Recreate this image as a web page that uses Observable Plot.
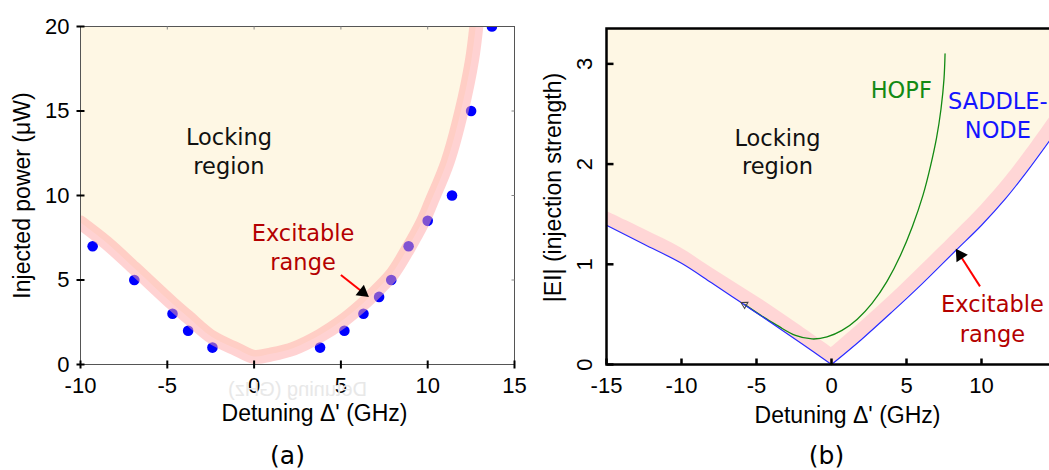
<!DOCTYPE html>
<html><head><meta charset="utf-8">
<script src="https://cdn.jsdelivr.net/npm/d3@7"></script>
<script src="https://cdn.jsdelivr.net/npm/@observablehq/plot@0.6"></script>
<style>
html,body{margin:0;padding:0;background:#fff;overflow:hidden}
#wrap{position:relative;width:1049px;height:470px;overflow:hidden;background:#fff}
#pa,#pb{position:absolute;top:0;width:540px;height:470px}
#pa{left:0}
#pb{left:540px}
#pa svg,#pb svg{max-width:none !important}
#ghost{position:absolute;left:230px;top:378px;width:137px;text-align:center;font:20px "Liberation Sans",Arial,sans-serif;color:#e8e8e8;transform:scaleX(-1);white-space:nowrap}
</style></head>
<body>
<div id="wrap"><div id="pa"></div><div id="pb"></div><div id="ghost">Detuning (GHz)</div></div>
<script>
// ---------- Panel (a) data ----------
const aXDomain = [-10, 15];
const aYDomain = [0, 20];
const aXTicks = [-10, -5, 0, 5, 10, 15];
const aYTicks = [0, 5, 10, 15, 20];
const dotDetuning = [-9.3, -6.9, -4.7, -3.8, -2.4, 3.8, 5.2, 6.3, 7.2, 7.9, 8.9, 10.0, 11.4, 12.5, 13.7];
const dotPower    = [7, 5, 3, 2, 1, 1, 2, 3, 4, 5, 7, 8.5, 10, 15, 20];
const edgeDetuningA = [-10, -8.5, -6.9, -4.7, -3.8, -2.4, -1, 0, 1, 2.3, 3.8, 5, 6.3, 7.2, 8, 8.9, 9.7, 10.2, 11.15, 11.95, 12.55, 12.8];
const edgePowerA    = [8.4, 7.2, 5.7, 3.6, 2.8, 1.6, 0.9, 0.45, 0.6, 0.95, 1.7, 2.5, 3.6, 4.5, 5.4, 6.9, 8.4, 9.6, 12, 15, 18, 20];
const arrowA = {tail: [5.0, 5.3], head: [6.26, 4.27], angle: 128};

// ---------- Panel (b) data ----------
const bXDomain = [-15, 15];
const bYDomain = [0, 3.353];
const bXTicks = [-15, -10, -5, 0, 5, 10];
const bYTicks = [0, 1, 2, 3];
const snDetuning = [-15, -12.5, -10, -8, -6, -4, -2, 0, 2, 4, 6, 8.3, 10, 11.6, 13, 15];
const snStrength = [1.39, 1.2, 1.01, 0.815, 0.615, 0.415, 0.21, 0, 0.25, 0.52, 0.8, 1.14, 1.39, 1.655, 1.92, 2.33];
const bandWidthB = [0.14, 0.15, 0.15, 0.15, 0.16, 0.17, 0.17, 0.17, 0.18, 0.18, 0.19, 0.19, 0.2, 0.21, 0.22, 0.23];
const snSide = ["L","L","L","L","L","L","L","L","R","R","R","R","R","R","R","R"];
const hopfDetuning = [-5.8, -4.5, -3.4, -2.4, -1.3, -0.3, 0.7, 1.7, 2.7, 3.7, 4.6, 5.4, 6.1, 6.6, 7.0, 7.3, 7.5, 7.57];
const hopfStrength = [0.60, 0.47, 0.37, 0.29, 0.255, 0.275, 0.34, 0.45, 0.61, 0.83, 1.09, 1.38, 1.69, 1.98, 2.26, 2.55, 2.85, 3.1];
const arrowB = {tail: [9.9, 0.78], head: [8.57, 1.09], angle: -33};
const markerB = [[-5.8, 0.6]];

// ---------- styles ----------
const sans = '"Liberation Sans", Arial, sans-serif';
const dvs = '"DejaVu Sans", Verdana, sans-serif';
const cream = "#fef7e4";
const red = "#b40000";

function seg(x1, y1, x2, y2) {
  return {draw(ctx, size) { const r = Math.sqrt(size / Math.PI); ctx.moveTo(x1 * r, y1 * r); ctx.lineTo(x2 * r, y2 * r); }};
}
const hCross = seg(-1, 0, 1, 0), vCross = seg(0, -1, 0, 1);
const downT = seg(0, 0, 0, 1), upT = seg(0, 0, 0, -1), leftT = seg(0, 0, -1, 0), rightT = seg(0, 0, 1, 0);
const fmt = d => String(d);

const dotsA = dotDetuning.map((x, i) => ({x, y: dotPower[i]}));
const edgeA = edgeDetuningA.map((x, i) => ({x, y: edgePowerA[i]}));

const pa = Plot.plot({
  width: 540, height: 470,
  marginLeft: 80, marginRight: 26, marginTop: 26, marginBottom: 106,
  style: {background: "transparent", fontFamily: sans, maxWidth: "none"},
  x: {domain: aXDomain}, y: {domain: aYDomain},
  marks: [
    Plot.areaY(edgeA, {x: "x", y1: "y", y2: aYDomain[1], fill: cream, curve: "catmull-rom", clip: true}),
    Plot.dot(dotsA, {x: "x", y: "y", r: 5.3, fill: "#0000ff", clip: true}),
    Plot.line(edgeA, {x: "x", y: "y", stroke: "#ffa6a6", strokeOpacity: 0.5, strokeWidth: 14, curve: "catmull-rom", clip: true}),
    Plot.frame({stroke: "#555", strokeWidth: 1}),
    Plot.dot(aYTicks, {y: d => d, frameAnchor: "left", symbol: hCross, r: 4, stroke: "#000", strokeWidth: 2}),
    Plot.dot(aXTicks, {x: d => d, frameAnchor: "bottom", symbol: vCross, r: 4, stroke: "#000", strokeWidth: 2}),
    Plot.dot(aXTicks.slice(1, -1), {x: d => d, frameAnchor: "top", symbol: downT, r: 3, stroke: "#888", strokeWidth: 1}),
    Plot.dot(aYTicks.slice(1, -1), {y: d => d, frameAnchor: "right", symbol: leftT, r: 3, stroke: "#888", strokeWidth: 1}),
    Plot.axisY({ticks: aYTicks, tickSize: 0, tickPadding: 11, fontSize: 22, tickFormat: fmt, label: null, fill: "#000"}),
    Plot.axisX({ticks: aXTicks, tickSize: 0, tickPadding: 13, fontSize: 22, tickFormat: fmt, label: null, fill: "#000"}),
    Plot.text(["Detuning Δ' (GHz)"], {text: d => d, frameAnchor: "bottom", dx: 17, dy: 49, fontSize: 23, fontFamily: sans, textAnchor: "middle", lineAnchor: "middle", fill: "#000"}),
    Plot.text(["Injected power (μW)"], {text: d => d, frameAnchor: "left", dx: -58, rotate: -90, fontSize: 23, fontFamily: sans, textAnchor: "middle", lineAnchor: "middle", fill: "#000"}),
    Plot.text(["(a)"], {text: d => d, frameAnchor: "bottom", dx: -10, dy: 91, fontSize: 25, fontFamily: dvs, textAnchor: "middle", lineAnchor: "middle", fill: "#000"}),
    Plot.text(["Locking\nregion"], {text: d => d, x: -1.45, y: 12.66, fontSize: 22.5, fontFamily: dvs, lineHeight: 1.26, lineAnchor: "middle", fill: "#111"}),
    Plot.text(["Excitable\nrange"], {text: d => d, x: 2.82, y: 6.99, fontSize: 22.5, fontFamily: dvs, lineHeight: 1.28, lineAnchor: "middle", fill: red}),
    Plot.link([arrowA], {x1: d => d.tail[0], y1: d => d.tail[1], x2: d => d.head[0], y2: d => d.head[1], stroke: "#ff0000", strokeWidth: 2}),
    Plot.dot([arrowA], {x: d => d.head[0], y: d => d.head[1], symbol: "triangle", r: 5, fill: "#000", rotate: d => d.angle})
  ]
});
document.getElementById("pa").appendChild(pa);

const sn = snDetuning.map((x, i) => ({x, y: snStrength[i], w: bandWidthB[i], side: snSide[i]}));
// share the apex point with the right branch
sn.splice(8, 0, {x: 0, y: 0, w: bandWidthB[7], side: "R"});
const hopf = hopfDetuning.map((x, i) => ({x, y: hopfStrength[i]}));

const pb = Plot.plot({
  width: 540, height: 470,
  marginLeft: 66, marginRight: 24, marginTop: 28, marginBottom: 106,
  style: {background: "transparent", fontFamily: sans, maxWidth: "none"},
  x: {domain: bXDomain}, y: {domain: bYDomain, axis: null},
  marks: [
    Plot.areaY(sn, {x: "x", y1: "y", y2: bYDomain[1], z: "side", fill: cream, curve: "catmull-rom"}),
    Plot.areaY(sn, {x: "x", y1: "y", y2: d => d.y + d.w, z: "side", fill: "#ffd6d6", curve: "catmull-rom"}),
    Plot.line(hopf, {x: "x", y: "y", stroke: "#138a13", strokeWidth: 1.3, curve: "natural", clip: true}),
    Plot.line(sn, {x: "x", y: "y", z: "side", stroke: "#2a2aff", strokeWidth: 1.2, curve: "catmull-rom"}),
    Plot.dot(markerB, {x: d => d[0], y: d => d[1], symbol: "triangle", r: 2.6, rotate: -62, stroke: "#444", strokeWidth: 1, fill: "none"}),
    Plot.frame({stroke: "#000", strokeWidth: 2.5}),
    Plot.dot(bYTicks, {y: d => d, frameAnchor: "left", symbol: rightT, r: 7, stroke: "#000", strokeWidth: 2.5}),
    Plot.dot(bXTicks, {x: d => d, frameAnchor: "bottom", symbol: upT, r: 6, stroke: "#000", strokeWidth: 2.5}),
    Plot.axisX({ticks: bXTicks, tickSize: 0, tickPadding: 13, fontSize: 22, tickFormat: fmt, label: null, fill: "#000"}),
    Plot.text(bYTicks, {y: d => d, text: fmt, frameAnchor: "left", dx: -22, rotate: -90, fontSize: 22, fontFamily: sans, textAnchor: "middle", lineAnchor: "middle", fill: "#000"}),
    Plot.text(["Detuning Δ' (GHz)"], {text: d => d, frameAnchor: "bottom", dx: 16, dy: 51, fontSize: 23, fontFamily: sans, textAnchor: "middle", lineAnchor: "middle", fill: "#000"}),
    Plot.text(["|EI| (injection strength)"], {text: d => d, frameAnchor: "left", dx: -53, dy: -9, rotate: -90, fontSize: 23, fontFamily: sans, textAnchor: "middle", lineAnchor: "middle", fill: "#000"}),
    Plot.text(["(b)"], {text: d => d, frameAnchor: "bottom", dx: -5, dy: 91, fontSize: 25, fontFamily: dvs, textAnchor: "middle", lineAnchor: "middle", fill: "#000"}),
    Plot.text(["Locking\nregion"], {text: d => d, x: -3.6, y: 2.128, fontSize: 22.5, fontFamily: dvs, lineHeight: 1.26, lineAnchor: "middle", fill: "#111"}),
    Plot.text(["HOPF"], {text: d => d, x: 4.65, y: 2.73, fontSize: 22.5, fontFamily: dvs, lineAnchor: "middle", fill: "#138a13"}),
    Plot.text(["SADDLE-\nNODE"], {text: d => d, x: 11.09, y: 2.5, fontSize: 22.5, fontFamily: dvs, lineHeight: 1.3, lineAnchor: "middle", fill: "#1414ff"}),
    Plot.text(["Excitable\nrange"], {text: d => d, x: 10.73, y: 0.467, fontSize: 22.5, fontFamily: dvs, lineHeight: 1.3, lineAnchor: "middle", fill: red}),
    Plot.link([arrowB], {x1: d => d.tail[0], y1: d => d.tail[1], x2: d => d.head[0], y2: d => d.head[1], stroke: "#ff0000", strokeWidth: 2}),
    Plot.dot([arrowB], {x: d => d.head[0], y: d => d.head[1], symbol: "triangle", r: 5, fill: "#000", rotate: d => d.angle})
  ]
});
document.getElementById("pb").appendChild(pb);
</script>
</body></html>
